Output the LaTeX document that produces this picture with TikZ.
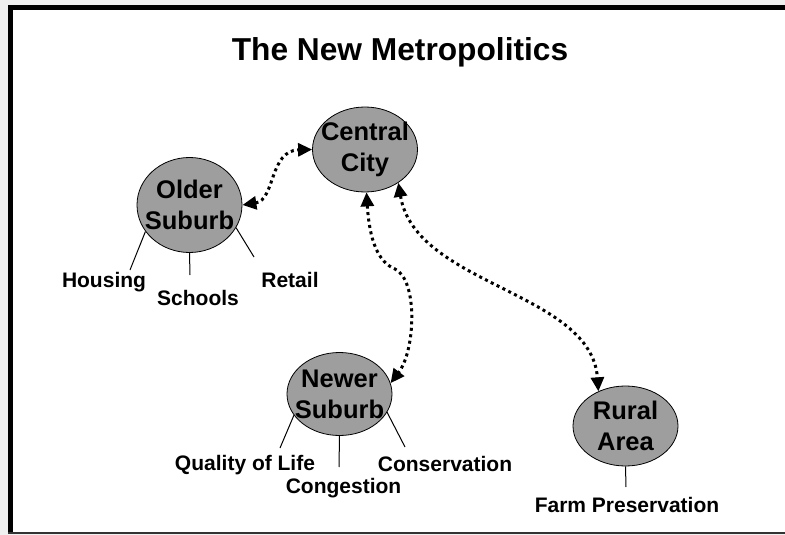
\documentclass[tikz,border=0pt]{standalone}
\usepackage{fontspec}
\setmainfont{Liberation Sans}
\usetikzlibrary{shapes.geometric,arrows.meta}
\definecolor{bubble}{RGB}{158,158,158}
\definecolor{backdrop}{RGB}{240,240,240}

\begin{document}
\begin{tikzpicture}[x=1pt,y=-1pt,
  place/.style={ellipse,draw,fill=bubble,line width=0.8pt,minimum width=105pt,inner sep=0pt},
  placetext/.style={font=\bfseries\fontsize{25.5}{31}\selectfont,align=center},
  topic/.style={font=\bfseries\fontsize{21}{25}\selectfont,inner sep=0pt,anchor=base},
  link/.style={line width=3pt,dash pattern=on 3pt off 3.5pt,{Triangle[length=14pt,width=13pt]}-{Triangle[length=14pt,width=13pt]}},
  tie/.style={line width=1pt}]
% Frame
\fill[backdrop] (0,0) rectangle (785,535);
\fill[white] (8,5) rectangle (785,534);
\fill (8,5) rectangle (13,533);
\fill (8,5) rectangle (785,10);
\fill[black!80] (8,532) rectangle (785,534);
% Nodes
\node[font=\bfseries\fontsize{31.7}{38}\selectfont](title) at (400,52){The New Metropolitics};
\node[place,minimum height=85pt,label={[placetext]center:Central\\City}](central) at (365,149.5){};
\node[place,minimum height=95pt,label={[placetext]center:Older\\Suburb}](older) at (189.5,205){};
\node[place,minimum height=83pt,label={[placetext]center:Newer\\Suburb}](newer) at (339.5,394){};
\node[place,minimum height=80pt,label={[placetext]center:Rural\\Area}](rural) at (625.5,426){};
\node[topic](housing) at (104,287){Housing};
\node[topic](schools) at (198,305){Schools};
\node[topic](retail) at (290,287){Retail};
\node[topic](quality) at (245,470){Quality of Life};
\node[topic](congestion) at (343.5,493){Congestion};
\node[topic](conservation) at (445,471){Conservation};
\node[topic](farm) at (627,512){Farm Preservation};
% Ends of the ties
\coordinate(h) at (130,270);
\coordinate(s) at (190,275);
\coordinate(r) at (254,257);
\coordinate(q) at (280,448);
\coordinate(c) at (339,467);
\coordinate(v) at (405,447);
\coordinate(f) at (626,487);
\coordinate(kink) at (395,269);
% Ties
\draw[tie] (older.211) -- (h);
\draw[tie] (older.south) -- (s);
\draw[tie] (older.334) -- (r);
\draw[tie] (newer.205) -- (q);
\draw[tie] (newer.south) -- (c);
\draw[tie] (newer.339) -- (v);
\draw[tie] (rural.south) -- (f);
% Arcs
\draw[link] (older.east) .. controls +(33,-5) and +(-43,1) .. (central.west);
\draw[link] (central.272) .. controls +(3,48) and +(-17,-7) .. (kink) .. controls +(23,11) and +(25,-33) .. (newer.12);
\draw[link] (central.-45) .. controls +(17,103) and +(-7,-100) .. (rural.128);
\end{tikzpicture}
\end{document}
